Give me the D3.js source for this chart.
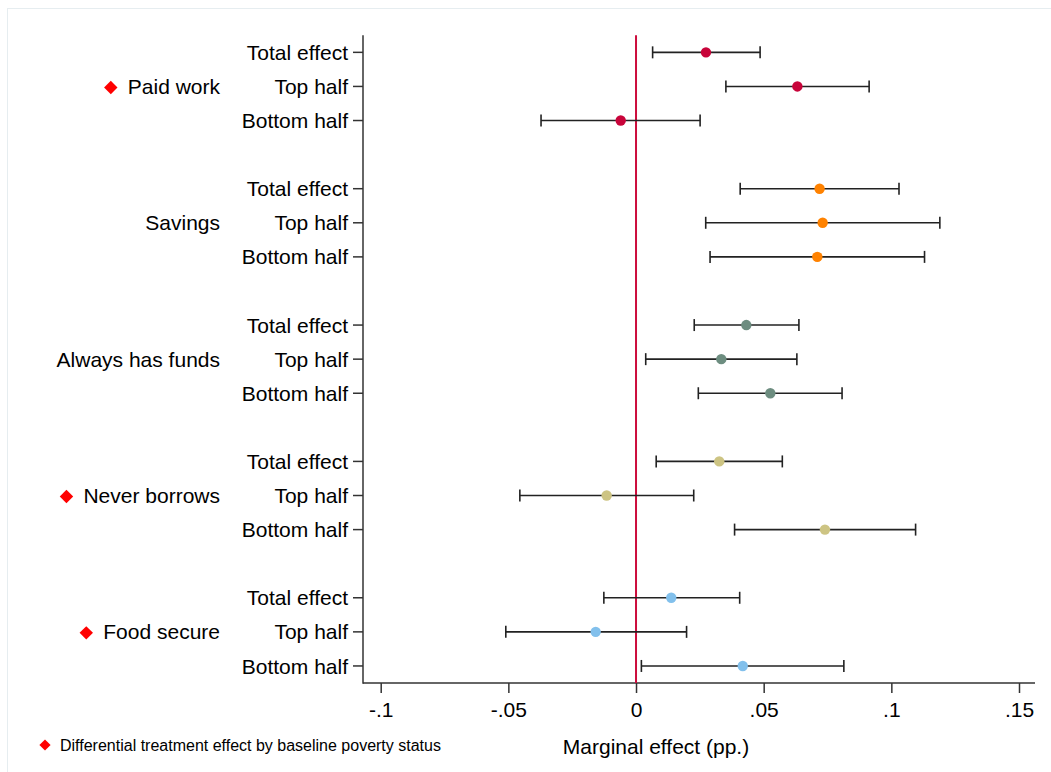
<!DOCTYPE html>
<html>
<head>
<meta charset="utf-8">
<script src="https://cdn.jsdelivr.net/npm/d3@7/dist/d3.min.js"></script>
<style>
  html, body { margin: 0; padding: 0; background: #fff; }
  svg { display: block; font-family: "Liberation Sans", Arial, Helvetica, sans-serif; }
</style>
</head>
<body>
<svg id="chart" width="1051" height="772"></svg>
<script>
'use strict'

// outcome groups and subgroups
const groups = ['Paid work', 'Savings', 'Always has funds', 'Never borrows', 'Food secure']
const flagged = [true, false, false, true, true]
const subgroups = ['Total effect', 'Top half', 'Bottom half']

// point estimates, per group: total / top half / bottom half
const estimates = [
  [0.0274, 0.0632, -0.0060],
  [0.0719, 0.0731, 0.0710],
  [0.0432, 0.0334, 0.0526],
  [0.0326, -0.0115, 0.0740],
  [0.0138, -0.0158, 0.0418]
]
const lower = [
  [0.0065, 0.0352, -0.0372],
  [0.0408, 0.0273, 0.0290],
  [0.0228, 0.0038, 0.0244],
  [0.0079, -0.0455, 0.0386],
  [-0.0126, -0.0510, 0.0021]
]
const upper = [
  [0.0486, 0.0913, 0.0251],
  [0.1030, 0.1190, 0.1130],
  [0.0638, 0.0630, 0.0807],
  [0.0573, 0.0226, 0.1095],
  [0.0406, 0.0198, 0.0814]
]

const xTicks = [-0.1, -0.05, 0, 0.05, 0.1, 0.15]
const xTickLabels = ['-.1', '-.05', '0', '.05', '.1', '.15']

const groupColors = ['#c8043a', '#ff8200', '#6d8d80', '#cdc483', '#82c0ec']

const svg = d3.select('#chart')

// faint outer frame
svg.append('rect')
  .attr('x', 7.5).attr('y', 8.5)
  .attr('width', 1060).attr('height', 780)
  .attr('fill', 'none')
  .attr('stroke', '#e6edf0')
  .attr('stroke-width', 1)

const x = d3.scaleLinear().domain([-0.1, 0.15]).range([380.7, 1019])
// one slot per row, plus an empty slot between groups
const y = d3.scaleLinear().domain([-0.5, 18.5]).range([35.3, 683])
const plotLeft = 363
const plotRight = 1035
const labelSize = 21

const rows = []
groups.forEach((g, gi) => {
  subgroups.forEach((s, si) => {
    rows.push({
      group: gi,
      label: s,
      slot: gi * 4 + si,
      est: estimates[gi][si],
      lo: lower[gi][si],
      hi: upper[gi][si]
    })
  })
})

// x axis
const xAxis = d3.axisBottom(x)
  .tickValues(xTicks)
  .tickFormat((d, i) => xTickLabels[i])
  .tickSize(10)
  .tickSizeOuter(0)

const gx = svg.append('g')
  .attr('transform', `translate(0,${y(18.5)})`)
  .call(xAxis)
gx.select('.domain').remove()
gx.selectAll('.tick line').attr('stroke', '#333').attr('stroke-width', 1.5)
gx.selectAll('.tick text')
  .attr('fill', '#000')
  .attr('font-size', labelSize)
  .attr('font-family', '"Liberation Sans", Arial, sans-serif')
  .attr('y', 14)
  .attr('dy', '0.95em')
gx.append('line')
  .attr('x1', plotLeft).attr('x2', plotRight)
  .attr('stroke', '#333').attr('stroke-width', 1.5)

// y axis
const gy = svg.append('g')
  .attr('transform', `translate(${plotLeft},0)`)
gy.append('line')
  .attr('y1', y(-0.5)).attr('y2', y(18.5) + 0.75)
  .attr('stroke', '#333').attr('stroke-width', 1.5)
gy.selectAll('line.tick')
  .data(rows)
  .join('line')
  .attr('class', 'tick')
  .attr('x1', -10).attr('x2', 0)
  .attr('y1', d => y(d.slot)).attr('y2', d => y(d.slot))
  .attr('stroke', '#333').attr('stroke-width', 1.5)
gy.selectAll('text.sub')
  .data(rows)
  .join('text')
  .attr('class', 'sub')
  .attr('x', -15)
  .attr('y', d => y(d.slot))
  .attr('dy', '0.36em')
  .attr('text-anchor', 'end')
  .attr('font-size', labelSize)
  .text(d => d.label)

// group labels
const groupLabels = svg.selectAll('g.group')
  .data(groups)
  .join('g')
  .attr('class', 'group')
groupLabels.append('text')
  .attr('x', 220)
  .attr('y', (d, i) => y(i * 4 + 1))
  .attr('dy', '0.36em')
  .attr('text-anchor', 'end')
  .attr('font-size', labelSize)
  .text(d => d)
groupLabels.each(function (d, i) {
  if (!flagged[i]) return
  const g = d3.select(this)
  const w = g.select('text').node().getComputedTextLength()
  g.append('path')
    .attr('d', d3.symbol(d3.symbolDiamond2, 115)())
    .attr('transform', `translate(${220 - w - 17},${y(i * 4 + 1) + 1})`)
    .attr('fill', '#ff0000')
})

// zero reference line
svg.append('line')
  .attr('x1', x(0)).attr('x2', x(0))
  .attr('y1', y(-0.5)).attr('y2', y(18.5))
  .attr('stroke', '#cc0c3c')
  .attr('stroke-width', 2)

// confidence intervals
const ci = svg.append('g')
ci.selectAll('line.ci')
  .data(rows)
  .join('line')
  .attr('class', 'ci')
  .attr('x1', d => x(d.lo)).attr('x2', d => x(d.hi))
  .attr('y1', d => y(d.slot)).attr('y2', d => y(d.slot))
  .attr('stroke', '#222').attr('stroke-width', 1.6)
ci.selectAll('line.caplo')
  .data(rows)
  .join('line')
  .attr('class', 'caplo')
  .attr('x1', d => x(d.lo)).attr('x2', d => x(d.lo))
  .attr('y1', d => y(d.slot) - 6).attr('y2', d => y(d.slot) + 6)
  .attr('stroke', '#222').attr('stroke-width', 1.6)
ci.selectAll('line.caphi')
  .data(rows)
  .join('line')
  .attr('class', 'caphi')
  .attr('x1', d => x(d.hi)).attr('x2', d => x(d.hi))
  .attr('y1', d => y(d.slot) - 6).attr('y2', d => y(d.slot) + 6)
  .attr('stroke', '#222').attr('stroke-width', 1.6)

// point estimates
svg.append('g')
  .selectAll('circle')
  .data(rows)
  .join('circle')
  .attr('cx', d => x(d.est))
  .attr('cy', d => y(d.slot))
  .attr('r', 5.2)
  .attr('fill', d => groupColors[d.group])

// axis title
svg.append('text')
  .attr('x', 656)
  .attr('y', 754)
  .attr('text-anchor', 'middle')
  .attr('font-size', labelSize)
  .text('Marginal effect (pp.)')

// note
svg.append('path')
  .attr('d', d3.symbol(d3.symbolDiamond2, 80)())
  .attr('transform', 'translate(45,745)')
  .attr('fill', '#ff0000')
svg.append('text')
  .attr('x', 60)
  .attr('y', 745)
  .attr('dy', '0.36em')
  .attr('font-size', 16)
  .text('Differential treatment effect by baseline poverty status')
</script>
</body>
</html>
